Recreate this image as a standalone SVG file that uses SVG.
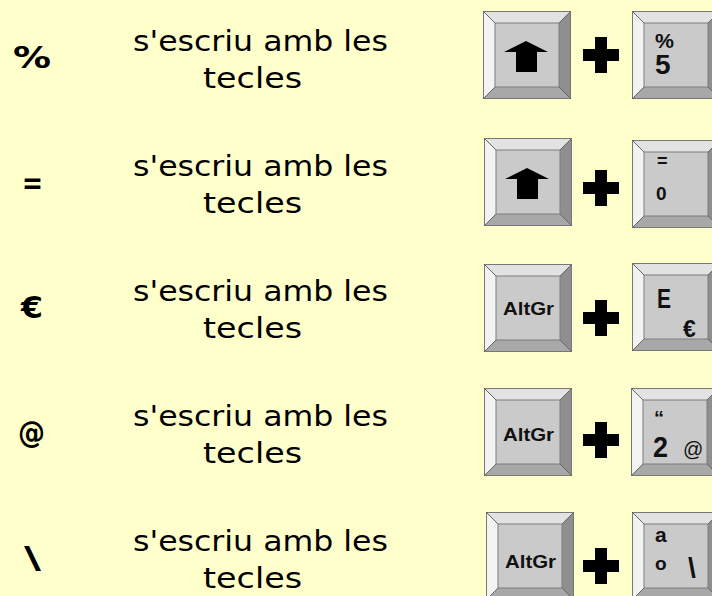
<svg xmlns="http://www.w3.org/2000/svg" xmlns:xlink="http://www.w3.org/1999/xlink" width="712" height="596" viewBox="0 0 712 596">
<style>
.sym{font-family:"DejaVu Sans",Verdana,sans-serif;font-weight:bold;font-size:30px;fill:#000;text-anchor:middle}
.txt{font-family:"DejaVu Sans",Verdana,sans-serif;font-size:29px;fill:#000}
.kl{font-family:"Liberation Sans",Arial,sans-serif;fill:#111}
.b{font-weight:bold}
</style>
<defs>
<g id="key">
<polygon points="0,0 88,0 76,12 12,12" fill="#e2e2e2"/>
<polygon points="0,0 12,12 12,76 0,88" fill="#f3f3f3"/>
<polygon points="88,0 88,88 76,76 76,12" fill="#8f8f8f"/>
<polygon points="0,88 12,76 76,76 88,88" fill="#a8a8a8"/>
<rect x="12" y="12" width="64" height="64" fill="#cacaca" stroke="#7c7c7c" stroke-width="1"/>
<rect x="0.5" y="0.5" width="87" height="87" fill="none" stroke="#777" stroke-width="1"/>
<path d="M0,0L12,12M88,0L76,12M0,88L12,76M88,88L76,76" stroke="#666" stroke-width="1"/>
</g>
<g id="plus"><rect x="-18" y="-6" width="36" height="12"/><rect x="-6" y="-18" width="12" height="36"/></g>
<polygon id="shift" points="43,30 65,41 54,41 54,61 33,61 33,41 21,41" fill="#000"/>
</defs>
<rect width="712" height="596" fill="#ffffcc"/>

<g id="row1">
<text class="sym" x="32" y="68" textLength="38" lengthAdjust="spacingAndGlyphs">%</text>
<g id="text1"><text class="txt" x="133" y="51" textLength="255" lengthAdjust="spacingAndGlyphs">s'escriu amb les</text><text class="txt" x="203" y="88" textLength="99" lengthAdjust="spacingAndGlyphs">tecles</text></g>
<g id="key1a" transform="translate(483,11)"><use xlink:href="#key"/><use xlink:href="#shift"/></g>
<use xlink:href="#plus" transform="translate(601,55)"/>
<g id="key1b" transform="translate(632,11)"><use xlink:href="#key"/>
<text class="kl b" x="23" y="37" font-size="20" textLength="19" lengthAdjust="spacingAndGlyphs">%</text>
<text class="kl b" x="23" y="63" font-size="28">5</text></g>
</g>

<g id="row2">
<text class="sym" x="32.5" y="193" textLength="21" lengthAdjust="spacingAndGlyphs">=</text>
<g id="text2"><text class="txt" x="133" y="176" textLength="255" lengthAdjust="spacingAndGlyphs">s'escriu amb les</text><text class="txt" x="203" y="213" textLength="99" lengthAdjust="spacingAndGlyphs">tecles</text></g>
<g id="key2a" transform="translate(484,138)"><use xlink:href="#key"/><use xlink:href="#shift"/></g>
<use xlink:href="#plus" transform="translate(601,188)"/>
<g id="key2b" transform="translate(632,140)"><use xlink:href="#key"/>
<text class="kl b" x="25" y="27" font-size="18">=</text>
<text class="kl b" x="24" y="60" font-size="19">0</text></g>
</g>

<g id="row3">
<text class="sym" x="32" y="318" textLength="22" lengthAdjust="spacingAndGlyphs">€</text>
<g id="text3"><text class="txt" x="133" y="301" textLength="255" lengthAdjust="spacingAndGlyphs">s'escriu amb les</text><text class="txt" x="203" y="338" textLength="99" lengthAdjust="spacingAndGlyphs">tecles</text></g>
<g id="key3a" transform="translate(484,264)"><use xlink:href="#key"/>
<text class="kl b" x="19" y="51" font-size="18" textLength="51" lengthAdjust="spacingAndGlyphs">AltGr</text></g>
<use xlink:href="#plus" transform="translate(601,318)"/>
<g id="key3b" transform="translate(632,263)"><use xlink:href="#key"/>
<text class="kl b" x="25" y="45" font-size="27" textLength="14" lengthAdjust="spacingAndGlyphs">E</text>
<text class="kl b" x="51" y="74" font-size="23">€</text></g>
</g>

<g id="row4">
<text class="sym" x="31.5" y="443" textLength="27" lengthAdjust="spacingAndGlyphs">@</text>
<g id="text4"><text class="txt" x="133" y="426" textLength="255" lengthAdjust="spacingAndGlyphs">s'escriu amb les</text><text class="txt" x="203" y="463" textLength="99" lengthAdjust="spacingAndGlyphs">tecles</text></g>
<g id="key4a" transform="translate(484,388)"><use xlink:href="#key"/>
<text class="kl b" x="19" y="53" font-size="18" textLength="51" lengthAdjust="spacingAndGlyphs">AltGr</text></g>
<use xlink:href="#plus" transform="translate(601,440)"/>
<g id="key4b" transform="translate(631,388)"><use xlink:href="#key"/>
<text class="kl b" x="23" y="37" font-size="20">“</text>
<text class="kl b" x="22" y="69" font-size="30" textLength="15" lengthAdjust="spacingAndGlyphs">2</text>
<text class="kl" x="52" y="68" font-size="20">@</text></g>
</g>

<g id="row5">
<text class="sym" x="32.5" y="568" textLength="17" lengthAdjust="spacingAndGlyphs">\</text>
<g id="text5"><text class="txt" x="133" y="551" textLength="255" lengthAdjust="spacingAndGlyphs">s'escriu amb les</text><text class="txt" x="203" y="588" textLength="99" lengthAdjust="spacingAndGlyphs">tecles</text></g>
<g id="key5a" transform="translate(486,512)"><use xlink:href="#key"/>
<text class="kl b" x="19" y="56" font-size="18" textLength="51" lengthAdjust="spacingAndGlyphs">AltGr</text></g>
<use xlink:href="#plus" transform="translate(601,566)"/>
<g id="key5b" transform="translate(632,512)"><use xlink:href="#key"/>
<text class="kl b" x="23" y="30" font-size="21">a</text>
<text class="kl b" x="23" y="58" font-size="19">o</text>
<text class="kl b" x="56" y="65" font-size="28">\</text></g>
</g>
</svg>
